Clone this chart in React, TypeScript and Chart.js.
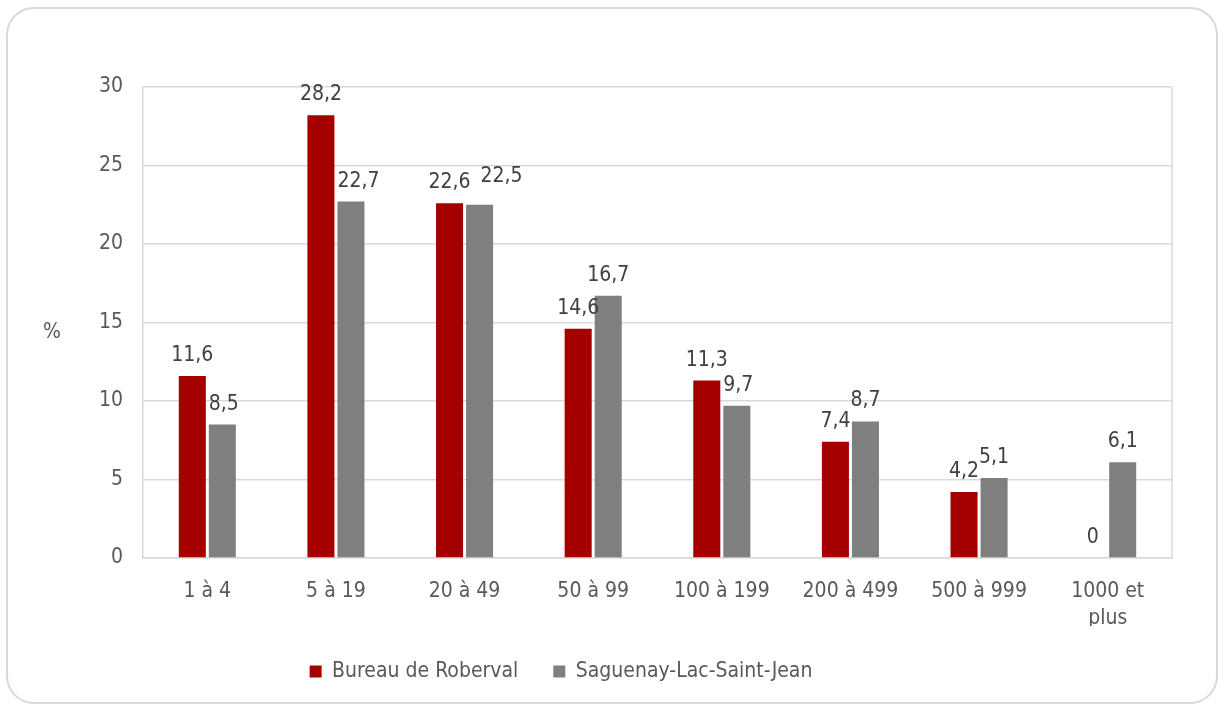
import React, { useEffect, useRef } from "react";
import { Chart, registerables } from "chart.js";

Chart.register(...registerables);

const categories: (string | string[])[] = [
  "1 à 4",
  "5 à 19",
  "20 à 49",
  "50 à 99",
  "100 à 199",
  "200 à 499",
  "500 à 999",
  ["1000 et", "plus"],
];
const roberval = [11.6, 28.2, 22.6, 14.6, 11.3, 7.4, 4.2, 0];
const saguenay = [8.5, 22.7, 22.5, 16.7, 9.7, 8.7, 5.1, 6.1];
const seriesNames = ["Bureau de Roberval", "Saguenay-Lac-Saint-Jean"];
const yTicks = [0, 5, 10, 15, 20, 25, 30];
const yTitle = "%";

const FONT = "'DejaVu Sans Condensed', 'DejaVu Sans', sans-serif";
const FS = 21;
const fmt = (v: number) => String(v).replace(".", ",");

const legendShiftPlugin = {
  id: "legendShift",
  afterLayout(chart: any) {
    const lg = chart.legend;
    if (lg) {
      lg.left -= 25;
      lg.right -= 25;
    }
  },
};

const labelsPlugin = {
  id: "customLabels",
  afterDatasetsDraw(chart: any) {
    const ctx = chart.ctx;
    ctx.save();
    ctx.font = `${FS}px ${FONT}`;
    ctx.fillStyle = "#404040";
    ctx.textAlign = "center";
    ctx.textBaseline = "alphabetic";
    const m0 = chart.getDatasetMeta(0);
    const m1 = chart.getDatasetMeta(1);
    const d0 = chart.data.datasets[0].data as number[];
    const d1 = chart.data.datasets[1].data as number[];
    const h = 16;
    m0.data.forEach((bar0: any, i: number) => {
      const bar1 = m1.data[i];
      const t0 = fmt(d0[i]);
      const t1 = fmt(d1[i]);
      const w0 = ctx.measureText(t0).width;
      const w1 = ctx.measureText(t1).width;
      const y0 = bar0.y - 15;
      let x1 = bar1.x;
      let y1 = bar1.y - 15;
      const r0Right = bar0.x + bar0.width / 2;
      const l0Right = bar0.x + w0 / 2;
      const labelOverlapY = y1 > y0 - h && y1 - h < y0;
      if (labelOverlapY && x1 - w1 / 2 < l0Right - 1) {
        x1 = l0Right + 10 + w1 / 2;
        y1 -= 8;
      } else if (y1 > bar0.y && x1 - w1 / 2 < r0Right + 3) {
        x1 = r0Right + 3 + w1 / 2;
      }
      ctx.fillText(t0, bar0.x, y0);
      ctx.fillText(t1, x1, y1);
    });
    ctx.fillStyle = "#595959";
    ctx.textBaseline = "middle";
    const a = chart.chartArea;
    ctx.fillText(yTitle, 52, (a.top + a.bottom) / 2 + 10);
    ctx.strokeStyle = "#d9d9d9";
    ctx.lineWidth = 1.5;
    ctx.beginPath();
    ctx.moveTo(a.right, a.top);
    ctx.lineTo(a.right, a.bottom);
    ctx.stroke();
    ctx.restore();
  },
};

export default function App() {
  const ref = useRef<HTMLCanvasElement>(null);
  useEffect(() => {
    if (!ref.current) return;
    const chart = new Chart(ref.current, {
      type: "bar",
      data: {
        labels: categories as any,
        datasets: [
          {
            label: seriesNames[0],
            data: roberval,
            backgroundColor: "#a50000",
            categoryPercentage: 0.467,
            barPercentage: 0.9,
          },
          {
            label: seriesNames[1],
            data: saguenay,
            backgroundColor: "#7f7f7f",
            categoryPercentage: 0.467,
            barPercentage: 0.9,
          },
        ],
      },
      options: {
        animation: false,
        responsive: false,
        maintainAspectRatio: false,
        layout: { padding: { top: 87, right: 48, bottom: 12, left: 0 } },
        scales: {
          x: {
            grid: { display: false },
            border: { display: true, color: "#d9d9d9", width: 1.5 },
            ticks: {
              color: "#595959",
              font: { family: FONT, size: FS, lineHeight: 1.3 },
              padding: 12,
              maxRotation: 0,
              autoSkip: false,
            },
            afterFit: (s: any) => {
              s.height = 68;
            },
          },
          y: {
            min: 0,
            max: 30,
            afterBuildTicks: (s: any) => {
              s.ticks = yTicks.map((v) => ({ value: v }));
            },
            grid: { color: "#d9d9d9", lineWidth: 1.5, drawTicks: false },
            border: { display: true, color: "#d9d9d9", width: 1.5 },
            ticks: {
              color: "#595959",
              font: { family: FONT, size: FS },
              padding: 20,
            },
            afterFit: (s: any) => {
              s.width = 143;
            },
          },
        },
        plugins: {
          legend: {
            position: "bottom",
            labels: {
              boxWidth: 12,
              boxHeight: 12,
              padding: 35,
              color: "#595959",
              font: { family: FONT, size: FS },
            },
          },
          tooltip: { enabled: false },
        },
      },
      plugins: [labelsPlugin, legendShiftPlugin],
    });
    return () => chart.destroy();
  }, []);

  return (
    <div style={{ position: "fixed", left: 0, top: 0, width: 1220, height: 704, background: "#fff" }}>
      <div
        style={{
          position: "absolute",
          left: 6,
          top: 7,
          width: 1212,
          height: 697,
          boxSizing: "border-box",
          border: "2px solid #d9d9d9",
          borderRadius: 28,
        }}
      />
      <canvas ref={ref} width={1220} height={704} style={{ position: "absolute", left: 0, top: 0 }} />
    </div>
  );
}
